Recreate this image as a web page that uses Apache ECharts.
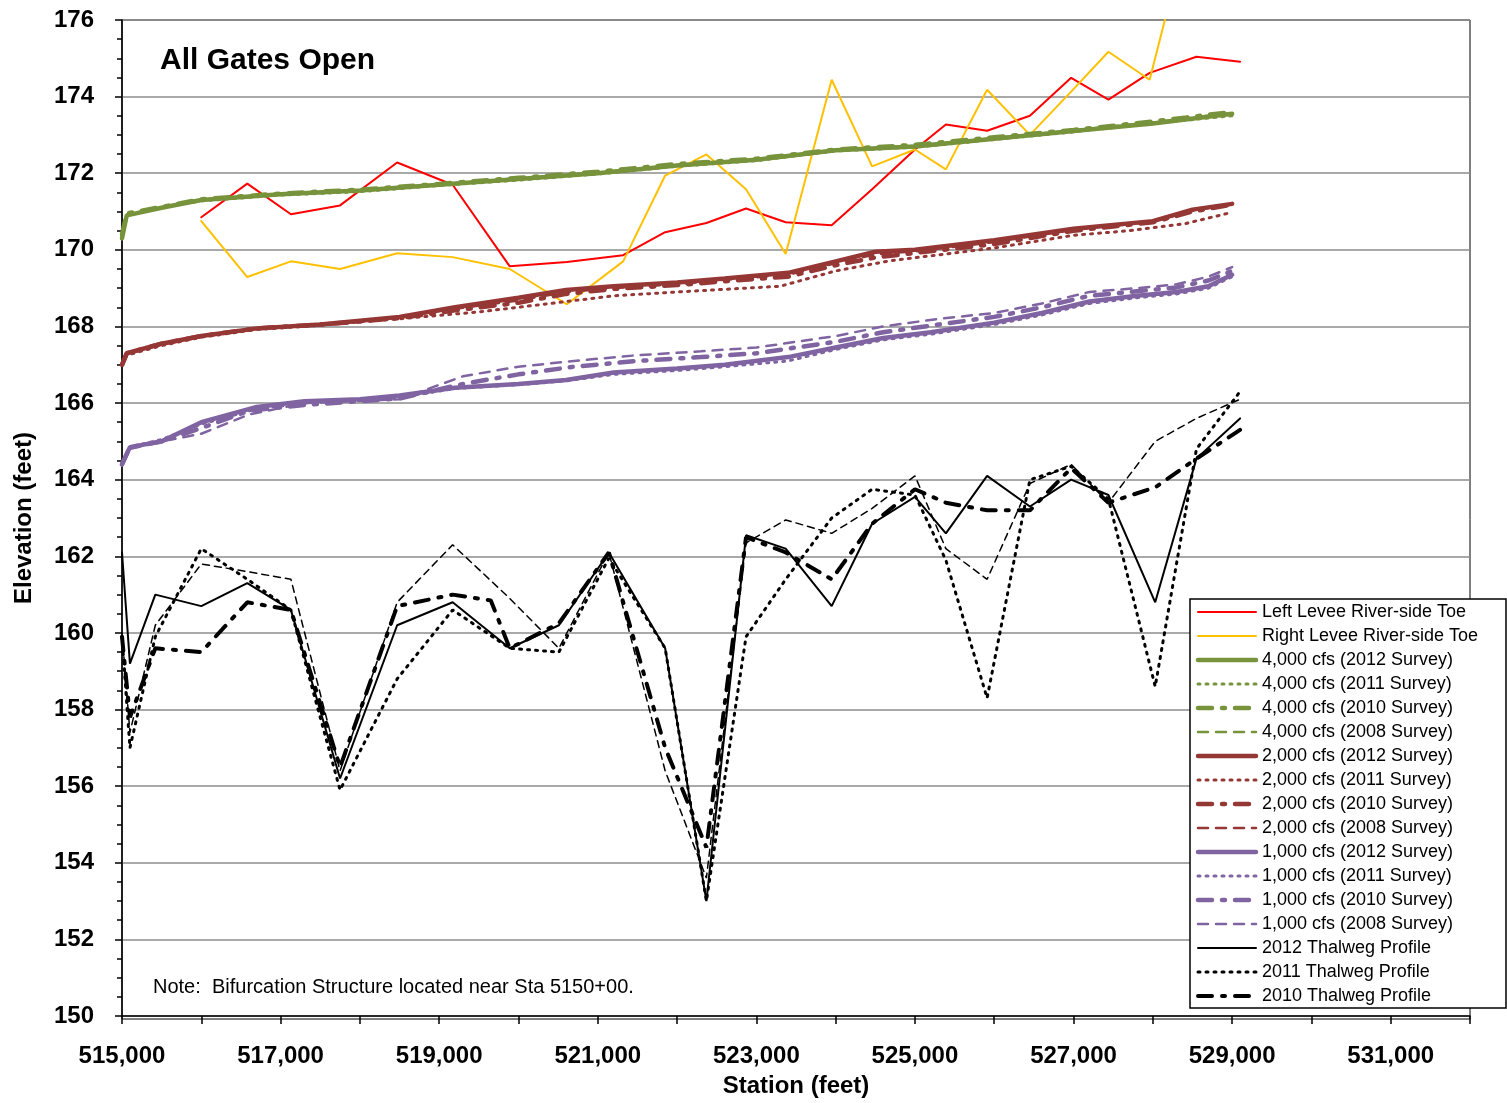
<!DOCTYPE html>
<html>
<head>
<meta charset="utf-8">
<script src="https://cdn.jsdelivr.net/npm/echarts@6/dist/echarts.min.js"></script>
<style>html,body{margin:0;padding:0;background:#fff}#chart{width:1507px;height:1103px}</style>
</head>
<body>
<div id="chart"></div>
<script>
'use strict';
// levees
var leftLevee = [[516000,170.85],[516580,171.73],[517130,170.93],[517750,171.16],[518470,172.28],[519170,171.7],[519890,169.57],[520610,169.68],[521320,169.86],[521850,170.46],[522370,170.7],[522870,171.08],[523370,170.72],[523950,170.64],[524460,171.58],[525000,172.62],[525390,173.27],[525910,173.11],[526450,173.5],[526970,174.49],[527440,173.92],[527960,174.62],[528550,175.04],[529100,174.91]];
var rightLevee = [[516000,170.75],[516580,169.29],[517130,169.7],[517750,169.5],[518470,169.91],[519170,169.81],[519890,169.5],[520610,168.58],[521320,169.7],[521850,171.94],[522370,172.49],[522870,171.58],[523370,169.89],[523950,174.44],[524460,172.18],[525000,172.62],[525390,172.1],[525910,174.18],[526450,173.0],[526970,174.13],[527440,175.17],[527960,174.44],[528300,177.2]];

// 4,000 cfs
var q4000_2012 = [[515000,170.3],[515060,170.9],[515500,171.1],[516000,171.3],[517000,171.45],[518000,171.55],[519000,171.7],[520000,171.85],[521000,172.0],[522000,172.2],[523000,172.35],[524000,172.6],[525000,172.7],[526000,172.9],[527000,173.1],[528000,173.3],[529000,173.55]];
var q4000_2011 = [[515000,170.4],[515060,170.9],[515500,171.1],[516000,171.28],[517000,171.43],[518000,171.52],[519000,171.68],[520000,171.82],[521000,171.98],[522000,172.18],[523000,172.33],[524000,172.58],[525000,172.68],[526000,172.88],[527000,173.08],[528000,173.3],[529000,173.5]];
var q4000_2010 = [[515000,170.4],[515060,170.95],[515500,171.12],[516000,171.32],[517000,171.47],[518000,171.57],[519000,171.72],[520000,171.88],[521000,172.04],[522000,172.24],[523000,172.38],[524000,172.62],[525000,172.74],[526000,172.94],[527000,173.13],[528000,173.35],[529000,173.6]];
var q4000_2008 = [[515000,170.35],[515060,170.92],[515500,171.1],[516000,171.3],[517000,171.45],[518000,171.55],[519000,171.7],[520000,171.86],[521000,172.02],[522000,172.22],[523000,172.36],[524000,172.6],[525000,172.72],[526000,172.92],[527000,173.12],[528000,173.33],[529000,173.58]];

// 2,000 cfs
var q2000_2012 = [[515000,167.0],[515060,167.3],[515500,167.55],[516000,167.75],[516700,167.95],[517500,168.05],[518000,168.15],[518500,168.25],[519200,168.5],[520000,168.75],[520600,168.95],[521200,169.05],[522000,169.15],[522600,169.25],[523400,169.4],[524000,169.7],[524500,169.95],[525000,170.0],[526000,170.25],[527000,170.55],[528000,170.75],[528500,171.05],[529000,171.2]];
var q2000_2011 = [[515000,167.0],[515060,167.25],[515500,167.5],[516000,167.72],[516700,167.92],[517500,168.03],[518000,168.12],[518500,168.2],[519500,168.38],[520400,168.6],[521200,168.8],[522000,168.9],[523300,169.05],[524000,169.45],[524700,169.72],[525500,169.92],[526000,170.05],[527000,170.38],[527700,170.5],[528400,170.68],[529000,170.98]];
var q2000_2010 = [[515000,167.0],[515060,167.3],[515500,167.55],[516000,167.75],[516700,167.95],[517500,168.05],[518000,168.13],[518500,168.22],[519200,168.42],[520000,168.62],[520600,168.85],[521200,168.98],[522000,169.08],[522600,169.18],[523400,169.3],[524000,169.6],[524500,169.8],[525000,169.92],[526000,170.15],[527000,170.5],[528000,170.72],[528500,171.0],[529000,171.18]];
var q2000_2008 = [[515000,167.0],[515060,167.28],[515500,167.53],[516000,167.74],[516700,167.94],[517500,168.04],[518000,168.14],[518500,168.24],[519200,168.46],[520000,168.68],[520600,168.9],[521200,169.0],[522000,169.1],[522600,169.22],[523400,169.35],[524000,169.65],[524500,169.88],[525000,169.96],[526000,170.2],[527000,170.52],[528000,170.74],[528500,171.02],[529000,171.2]];

// 1,000 cfs
var q1000_2012 = [[515000,164.4],[515100,164.85],[515500,165.0],[516000,165.5],[516700,165.9],[517300,166.05],[518000,166.1],[518500,166.2],[519200,166.4],[520000,166.5],[520600,166.6],[521200,166.8],[522000,166.9],[522600,167.0],[523400,167.2],[524000,167.45],[524600,167.7],[525200,167.85],[526000,168.1],[526600,168.35],[527200,168.65],[527800,168.8],[528300,168.9],[528700,169.05],[529000,169.35]];
var q1000_2011 = [[515000,164.4],[515100,164.85],[515500,165.05],[516000,165.45],[516700,165.85],[517300,166.0],[518000,166.08],[518500,166.15],[519200,166.38],[520000,166.48],[520600,166.58],[521200,166.75],[522000,166.85],[522600,166.95],[523400,167.1],[524000,167.4],[524600,167.65],[525200,167.8],[526000,168.05],[526600,168.3],[527200,168.6],[527800,168.75],[528300,168.85],[528700,169.0],[529000,169.3]];
var q1000_2010 = [[515000,164.4],[515100,164.85],[515500,165.0],[516000,165.35],[516600,165.8],[517300,165.95],[518000,166.05],[518500,166.12],[519300,166.5],[520000,166.75],[520700,166.95],[521500,167.1],[522300,167.2],[523000,167.3],[524000,167.6],[524600,167.85],[525300,168.05],[526000,168.25],[526600,168.5],[527200,168.8],[527800,168.92],[528300,169.02],[528700,169.2],[529000,169.45]];
var q1000_2008 = [[515000,164.4],[515100,164.8],[515500,165.0],[516000,165.2],[516600,165.7],[517300,166.0],[518500,166.1],[519300,166.7],[520000,166.95],[520700,167.1],[521500,167.25],[522300,167.35],[523000,167.45],[524000,167.75],[524600,168.0],[525300,168.2],[526000,168.35],[526600,168.6],[527200,168.9],[527800,169.0],[528300,169.1],[528700,169.3],[529000,169.55]];

// thalweg
var thal2012 = [[515000,162.1],[515100,159.2],[515420,161.0],[516000,160.7],[516580,161.3],[517130,160.6],[517750,156.2],[518470,160.2],[519170,160.8],[519890,159.6],[520510,160.2],[521140,162.1],[521850,159.6],[522370,153.0],[522870,162.55],[523370,162.2],[523950,160.7],[524460,162.85],[525000,163.55],[525390,162.6],[525910,164.1],[526450,163.3],[526970,164.0],[527440,163.6],[528030,160.8],[528550,164.55],[529100,165.6]];
var thal2011 = [[515000,159.9],[515100,157.0],[515420,159.9],[516000,162.2],[516580,161.4],[517130,160.6],[517750,155.9],[518470,158.8],[519170,160.6],[519890,159.6],[520510,159.5],[521140,161.95],[521850,159.6],[522370,153.0],[522870,159.9],[523370,161.4],[523950,163.0],[524460,163.75],[525000,163.6],[525390,161.9],[525910,158.3],[526450,164.0],[526970,164.35],[527440,163.5],[528030,158.6],[528550,164.8],[529100,166.3]];
var thal2010 = [[515000,159.9],[515100,157.8],[515420,159.6],[516000,159.5],[516580,160.8],[517130,160.6],[517750,156.5],[518470,160.7],[519170,161.0],[519650,160.85],[519890,159.6],[520510,160.25],[521140,162.1],[521850,157.0],[522370,154.4],[522870,162.5],[523370,162.1],[523950,161.4],[524460,162.85],[525000,163.75],[525390,163.4],[525910,163.2],[526450,163.2],[526970,164.3],[527440,163.4],[528030,163.8],[528550,164.55],[529100,165.3]];
var thal2008 = [[515000,160.0],[515100,157.4],[515420,160.2],[516000,161.8],[516580,161.6],[517130,161.4],[517750,156.4],[518470,160.8],[519170,162.3],[519890,160.9],[520510,159.6],[521140,162.1],[521850,156.4],[522370,153.6],[522870,162.35],[523370,162.95],[523950,162.6],[524460,163.25],[525000,164.1],[525390,162.2],[525910,161.4],[526450,163.9],[526970,164.4],[527440,163.4],[528030,165.0],[528550,165.6],[529100,166.1]];

var GREEN = '#77933c', BROWN = '#953735', PURPLE = '#8064a2';
var DOT = [2, 6], DASHDOT = [14, 10, 3, 10], DASH = [10, 8];

function mk(name, data, color, width, type) {
	return {
		name: name, type: 'line', data: data, showSymbol: false, symbol: 'none',
		silent: true, animation: false, clip: true,
		lineStyle: { color: color, width: width, type: type, cap: 'round' },
		itemStyle: { color: color }
	};
}

var series = [
	mk('Left Levee River-side Toe', leftLevee, '#ff0000', 2, 'solid'),
	mk('Right Levee River-side Toe', rightLevee, '#ffc000', 2, 'solid'),
	mk('4,000 cfs (2012 Survey)', q4000_2012, GREEN, 4.5, 'solid'),
	mk('4,000 cfs (2011 Survey)', q4000_2011, GREEN, 3, DOT),
	mk('4,000 cfs (2010 Survey)', q4000_2010, GREEN, 4.5, DASHDOT),
	mk('4,000 cfs (2008 Survey)', q4000_2008, GREEN, 2.5, DASH),
	mk('2,000 cfs (2012 Survey)', q2000_2012, BROWN, 4.5, 'solid'),
	mk('2,000 cfs (2011 Survey)', q2000_2011, BROWN, 3, DOT),
	mk('2,000 cfs (2010 Survey)', q2000_2010, BROWN, 4.5, DASHDOT),
	mk('2,000 cfs (2008 Survey)', q2000_2008, BROWN, 2.5, DASH),
	mk('1,000 cfs (2012 Survey)', q1000_2012, PURPLE, 4.5, 'solid'),
	mk('1,000 cfs (2011 Survey)', q1000_2011, PURPLE, 3, DOT),
	mk('1,000 cfs (2010 Survey)', q1000_2010, PURPLE, 4.5, DASHDOT),
	mk('1,000 cfs (2008 Survey)', q1000_2008, PURPLE, 2.5, DASH),
	mk('2012 Thalweg Profile', thal2012, '#000', 2, 'solid'),
	mk('2011 Thalweg Profile', thal2011, '#000', 3, DOT),
	mk('2010 Thalweg Profile', thal2010, '#000', 4, DASHDOT),
	mk('2008 Thalweg', thal2008, '#000', 1.5, [7, 5])
];

var FONT = '"Liberation Sans", "Noto Sans", sans-serif';

// legend drawn by hand (17 entries, last series has none)
var legendGraphics = [
	{ type: 'rect', shape: { x: 1190, y: 599, width: 316, height: 409 }, style: { fill: '#fff', stroke: '#000', lineWidth: 1.5 }, z: 50 }
];
series.slice(0, 17).forEach(function (s, i) {
	var y = 612 + i * 24;
	legendGraphics.push({
		type: 'line', shape: { x1: 1198, y1: y, x2: 1256, y2: y }, z: 51,
		style: { stroke: s.lineStyle.color, lineWidth: s.lineStyle.width, lineDash: s.lineStyle.type === 'solid' ? null : s.lineStyle.type, lineCap: 'round' }
	});
	legendGraphics.push({
		type: 'text', x: 1262, y: y, z: 51,
		style: { text: s.name, fontFamily: FONT, fontSize: 18, fill: '#000', textVerticalAlign: 'middle', verticalAlign: 'middle' }
	});
});

var myChart = echarts.init(document.getElementById('chart'));
var option = {
	backgroundColor: '#fff',
	animation: false,
	grid: { left: 122, right: 37, top: 20, bottom: 84 },
	xAxis: {
		type: 'value', min: 515000, max: 532000, interval: 2000,
		name: 'Station (feet)', nameLocation: 'middle', nameGap: 58,
		nameTextStyle: { fontFamily: FONT, fontSize: 24, fontWeight: 'bold', color: '#000' },
		axisLine: { lineStyle: { color: '#000', width: 1.5 } },
		axisTick: { length: 8, lineStyle: { color: '#000', width: 1.5 } },
		minorTick: { show: true, splitNumber: 2, length: 8, lineStyle: { color: '#000', width: 1.5 } },
		axisLabel: { fontFamily: FONT, fontSize: 24, fontWeight: 'bold', color: '#000', margin: 28,
			formatter: function (v) { return echarts.format.addCommas(v); } },
		splitLine: { show: false }
	},
	yAxis: {
		type: 'value', min: 150, max: 176, interval: 2,
		name: 'Elevation (feet)', nameLocation: 'middle', nameGap: 86, nameRotate: 90,
		nameTextStyle: { fontFamily: FONT, fontSize: 24, fontWeight: 'bold', color: '#000' },
		axisLine: { show: true, lineStyle: { color: '#000', width: 1.5 } },
		axisTick: { length: 7, lineStyle: { color: '#000', width: 1.5 } },
		minorTick: { show: true, splitNumber: 4, length: 5, lineStyle: { color: '#000', width: 1.5 } },
		axisLabel: { fontFamily: FONT, fontSize: 24, fontWeight: 'bold', color: '#000', margin: 28 },
		splitLine: { lineStyle: { color: '#8c8c8c', width: 1.5 } }
	},
	graphic: [
		{ type: 'rect', shape: { x: 122, y: 20, width: 1348, height: 999 }, style: { fill: 'none', stroke: '#000', lineWidth: 1 }, silent: true, z: 0 },
		{ type: 'text', left: 160, top: 46, style: { text: 'All Gates Open', fontFamily: FONT, fontSize: 30, fontWeight: 'bold', fill: '#000' } },
		{ type: 'text', left: 153, top: 977, style: { text: 'Note:  Bifurcation Structure located near Sta 5150+00.', fontFamily: FONT, fontSize: 20, fill: '#000' } }
	].concat(legendGraphics),
	series: series
};
myChart.setOption(option);
</script>
</body>
</html>
